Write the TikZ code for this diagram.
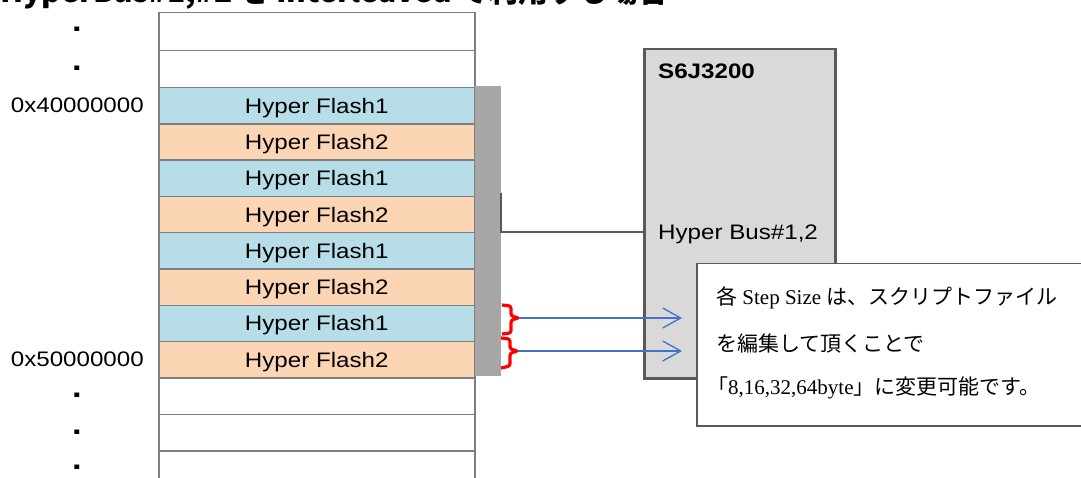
\documentclass[tikz,border=0pt]{standalone}
\usepackage{fontspec}
\setmainfont{Liberation Serif}
\newfontfamily\gothic[FakeStretch=1.15]{Liberation Sans}
\newfontfamily\jp{Noto Sans CJK JP}
\usetikzlibrary{arrows.meta}
\definecolor{fblue}{HTML}{B7DEE8}
\definecolor{forange}{HTML}{FCD5B5}
\definecolor{cellline}{HTML}{7F7F7F}
\definecolor{barg}{HTML}{A6A6A6}
\definecolor{chipfill}{HTML}{D9D9D9}
\definecolor{darkline}{HTML}{595959}
\definecolor{arrowblue}{HTML}{4472C4}
\tikzset{
  gfont/.style={font=\gothic\fontsize{21}{25}\selectfont},
  cell/.style={draw=cellline, line width=1.5pt, fill=white, minimum width=316pt,
    minimum height=36.25pt, anchor=north west, inner sep=0pt, gfont,
    text height=15pt, text depth=0pt},
  fa/.style={cell, fill=fblue},
  fb/.style={cell, fill=forange},
  addr/.style={gfont, anchor=east, inner sep=0pt, text height=15pt, text depth=0pt},
  dotlabel/.style={font=\gothic\bfseries\fontsize{30}{32}\selectfont, anchor=base, inner sep=0pt},
  bracestyle/.style={draw=red, line width=3.2pt, rounded corners=2.5pt},
  arr/.style={draw=arrowblue, line width=1.3pt, -{Straight Barb[length=18pt,width=20pt]}},
  conn/.style={draw=darkline, line width=2pt},
  chipbox/.style={draw=darkline, line width=2.5pt, fill=chipfill, anchor=north west,
    minimum width=191pt, minimum height=329pt, inner sep=0pt},
  notebox/.style={draw=darkline, line width=1.5pt, fill=white, anchor=north west,
    minimum width=392pt, minimum height=162pt, inner sep=0pt},
  notetext/.style={anchor=base west, inner sep=0pt, font=\fontsize{21}{25}\selectfont},
}
\newcommand{\J}[1]{{\jp #1}}
\begin{document}
\begin{tikzpicture}[x=1pt,y=-1pt]
\useasboundingbox (0,0) rectangle (1081,478);
% title (cut at top)
\node[anchor=base west, inner sep=0pt, font=\jp\bfseries\fontsize{30}{32}\selectfont] (title) at (0,3)
  {HyperBus\#1,\#2 を Interleaved で利用する場合};
% memory map
\node[cell, minimum height=38pt] (r0) at (158,12) {};
\node[cell, minimum height=37pt] (r1) at (158,50) {};
\node[fa] (r2) at (158,87) {Hyper Flash1};
\node[fb] (r3) at (158,123.25) {Hyper Flash2};
\node[fa] (r4) at (158,159.5) {Hyper Flash1};
\node[fb] (r5) at (158,195.75) {Hyper Flash2};
\node[fa] (r6) at (158,232) {Hyper Flash1};
\node[fb] (r7) at (158,268.25) {Hyper Flash2};
\node[fa] (r8) at (158,304.5) {Hyper Flash1};
\node[fb] (r9) at (158,340.75) {Hyper Flash2};
\node[cell, minimum height=36.5pt] (r10) at (158,377) {};
\node[cell, minimum height=36.5pt] (r11) at (158,413.5) {};
\node[cell, minimum height=45pt] (r12) at (158,450) {};
% addresses and dots
\node[addr] (a4) at (144,105) {0x40000000};
\node[addr] (a5) at (144,359) {0x50000000};
\node[dotlabel] (d1) at (77,32) {.};
\node[dotlabel] (d2) at (77,71) {.};
\node[dotlabel] (d3) at (77,397) {.};
\node[dotlabel] (d4) at (77,434) {.};
\node[dotlabel] (d5) at (77,469) {.};
% bus bar
\node[fill=barg, anchor=north west, minimum width=26pt, minimum height=290pt, inner sep=0pt] (bar) at (475,86) {};
% chip
\node[chipbox] (chip) at (643,48) {};
\node[gfont, font=\gothic\bfseries\fontsize{21}{25}\selectfont, anchor=west, inner sep=0pt, text height=15pt, text depth=0pt] (chipname) at (658,71) {S6J3200};
\node[gfont, anchor=west, inner sep=0pt, text height=15pt, text depth=0pt] (hb) at (658,232) {Hyper Bus\#1,2};
\coordinate (tick) at (501,193);
\draw[conn] (tick) |- (chip.west |- hb.west);
% braces
\draw[bracestyle] (502,305) -- (511,306) -- (511,316) -- (519,318) -- (511,320) -- (511,333) -- (502,334);
\draw[bracestyle] (501,338) -- (510,339) -- (510,349) -- (518,351) -- (510,353) -- (510,366) -- (501,368);
\coordinate (b1) at (519,318);
\coordinate (b2) at (518,351);
\coordinate (e1) at (682,318);
\coordinate (e2) at (682,351);
\draw[arr] (b1) -- (e1);
\draw[arr] (b2) -- (e2);
% note
\node[notebox] (note) at (696,263) {};
\node[notetext] (n1) at (716,304) {\J{各} Step Size \J{は、スクリプトファイル}};
\node[notetext] (n2) at (716,351) {\J{を編集して頂くことで}};
\node[notetext] (n3) at (707,394) {\J{「}8,16,32,64byte\J{」に変更可能です。}};
\end{tikzpicture}
\end{document}
